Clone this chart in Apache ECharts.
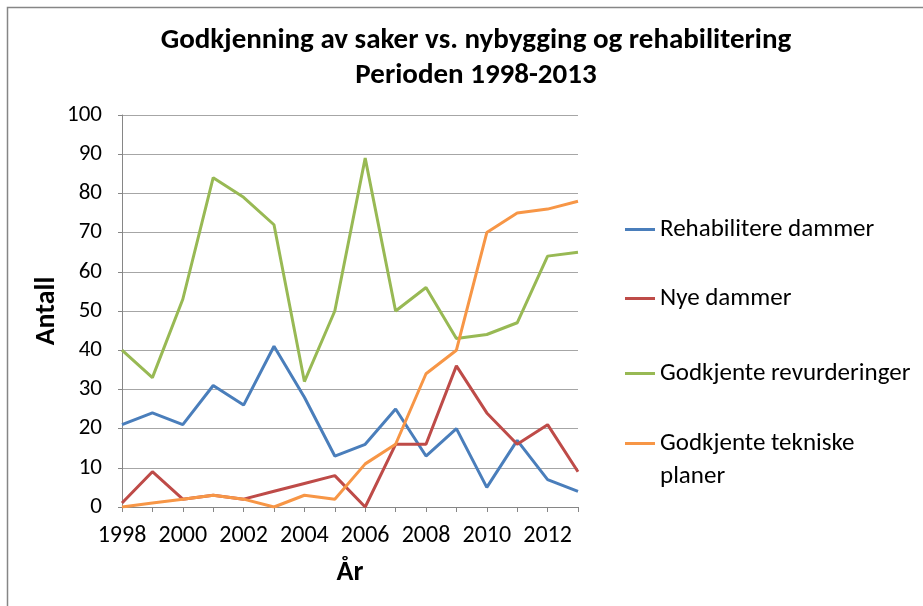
<!DOCTYPE html>
<html>
<head>
<meta charset="utf-8">
<script src="https://cdn.jsdelivr.net/npm/echarts@6/dist/echarts.min.js"></script>
<style>
  html, body { margin: 0; padding: 0; background: #fff; }
  #chart { width: 923px; height: 606px; }
</style>
</head>
<body>
<div id="chart"></div>
<script>
// data
const years = ['1998', '1999', '2000', '2001', '2002', '2003', '2004', '2005',
  '2006', '2007', '2008', '2009', '2010', '2011', '2012', '2013'];
const rehabilitere = [21, 24, 21, 31, 26, 41, 28, 13, 16, 25, 13, 20, 5, 17, 7, 4];
const nyeDammer = [1, 9, 2, 3, 2, 4, 6, 8, 0, 16, 16, 36, 24, 16, 21, 9];
const revurderinger = [40, 33, 53, 84, 79, 72, 32, 50, 89, 50, 56, 43, 44, 47, 64, 65];
const tekniskePlaner = [0, 1, 2, 3, 2, 0, 3, 2, 11, 16, 34, 40, 70, 75, 76, 78];

const names = ['Rehabilitere dammer', 'Nye dammer', 'Godkjente revurderinger', 'Godkjente tekniske planer'];
const colors = ['#4a7ebb', '#be4b48', '#98b954', '#f79646'];
const values = [rehabilitere, nyeDammer, revurderinger, tekniskePlaner];

const font = 'Calibri, Carlito, "Open Sans", sans-serif';
// last entry wraps onto two lines, an empty first line keeps the icon on "Godkjente tekniske"
const legendTops = [208, 277, 352, 389];

const chart = echarts.init(document.getElementById('chart'));

chart.setOption({
  animation: false,
  textStyle: { fontFamily: font },
  title: {
    text: 'Godkjenning av saker vs. nybygging og rehabilitering\nPerioden 1998-2013',
    left: 471,
    textAlign: 'center',
    top: 18,
    textStyle: { fontSize: 29, fontWeight: 'bold', color: '#000', lineHeight: 35, fontFamily: font }
  },
  graphic: [{
    type: 'rect',
    shape: { x: 7.5, y: 7.5, width: 1000, height: 1000 },
    style: { fill: 'none', stroke: '#868686', lineWidth: 1.5 },
    silent: true
  }],
  legend: names.map((n, i) => ({
    data: [n],
    left: 620,
    top: legendTops[i],
    icon: 'rect',
    itemWidth: 30,
    itemHeight: 3,
    selectedMode: false,
    formatter: i === 3 ? ' \nGodkjente tekniske\nplaner' : '{name}',
    textStyle: { fontSize: 25, color: '#000', fontFamily: font, lineHeight: 33 }
  })),
  grid: { left: 122, right: 345, top: 115, bottom: 99 },
  xAxis: {
    type: 'category',
    data: years,
    boundaryGap: false,
    name: 'År',
    nameLocation: 'middle',
    nameGap: 52,
    nameTextStyle: { fontSize: 28, fontWeight: 'bold', color: '#000' },
    axisLine: { lineStyle: { color: '#868686', width: 1 } },
    axisTick: { length: 5, interval: 0, lineStyle: { color: '#868686' } },
    axisLabel: { interval: 1, fontSize: 24, color: '#000', margin: 17 },
    splitLine: { show: false }
  },
  yAxis: {
    type: 'value',
    min: 0,
    max: 100,
    interval: 10,
    name: 'Antall',
    nameLocation: 'middle',
    nameGap: 61,
    nameTextStyle: { fontSize: 28, fontWeight: 'bold', color: '#000' },
    axisLine: { show: true, lineStyle: { color: '#868686', width: 1 } },
    axisTick: { show: true, length: 4, lineStyle: { color: '#868686' } },
    axisLabel: { fontSize: 23, color: '#000', margin: 20 },
    splitLine: { lineStyle: { color: '#a6a6a6', width: 1 } }
  },
  series: names.map((n, i) => ({
    name: n,
    type: 'line',
    data: values[i],
    symbol: 'none',
    color: colors[i],
    lineStyle: { width: 3, color: colors[i] }
  }))
});
</script>
</body>
</html>
